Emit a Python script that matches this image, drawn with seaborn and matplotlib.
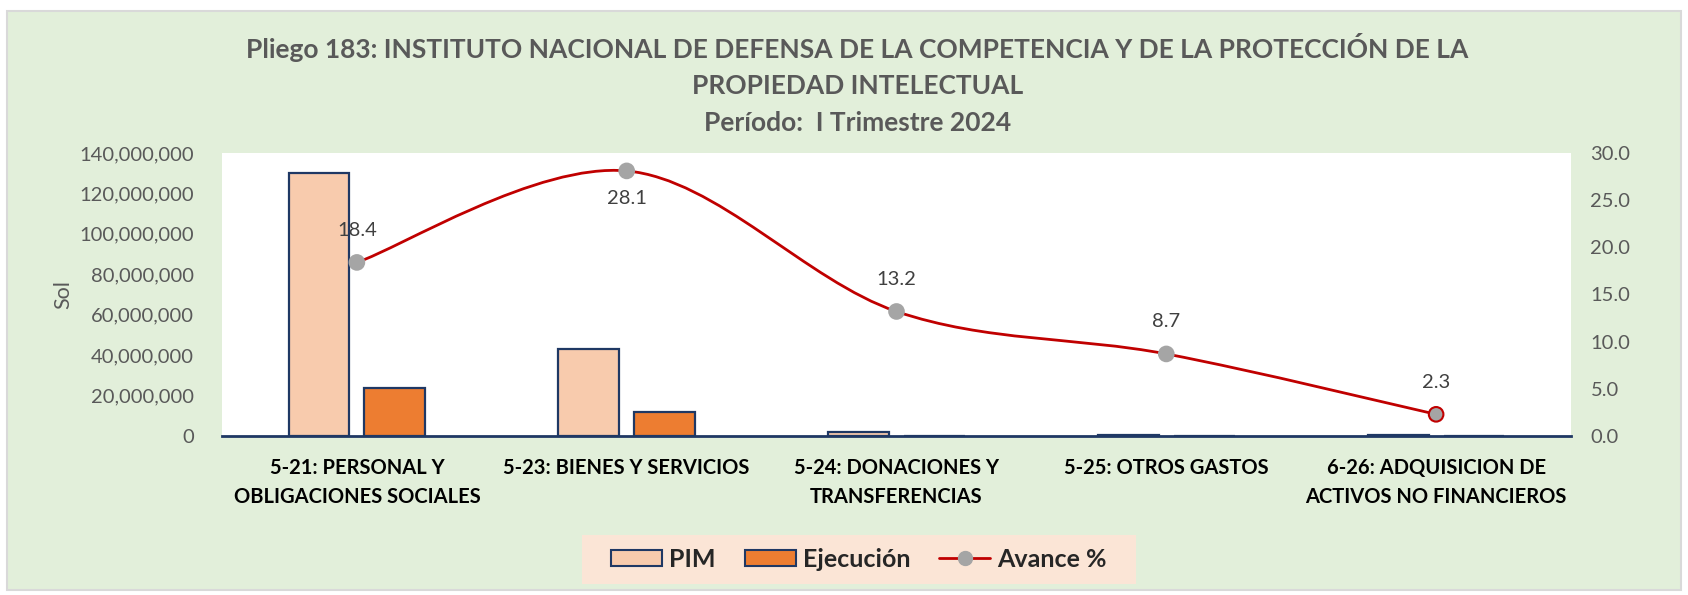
import numpy as np
import pandas as pd
import matplotlib
matplotlib.use('Agg')
import matplotlib.pyplot as plt
import seaborn as sns
from matplotlib.path import Path
from matplotlib.patches import PathPatch, Rectangle, Patch
from matplotlib.lines import Line2D
from matplotlib.ticker import FuncFormatter, MultipleLocator

# Datos del gráfico
categorias = ['5-21: PERSONAL Y\nOBLIGACIONES SOCIALES', '5-23: BIENES Y SERVICIOS',
              '5-24: DONACIONES Y\nTRANSFERENCIAS', '5-25: OTROS GASTOS',
              '6-26: ADQUISICION DE\nACTIVOS NO FINANCIEROS']
pim = [130000000, 43100000, 1800000, 350000, 600000]
ejecucion = [23900000, 12100000, 240000, 30000, 14000]
avance = [18.4, 28.1, 13.2, 8.7, 2.3]

sns.set_style('white')
plt.rcParams['font.family'] = ['Lato', 'DejaVu Sans']

df = pd.DataFrame({
    'Categoria': categorias * 2,
    'Monto': pim + ejecucion,
    'Serie': ['PIM'] * 5 + ['Ejecución'] * 5,
})

navy = '#1F3864'
gris = '#595959'
fig = plt.figure(figsize=(16.88, 5.95), dpi=100, facecolor='white')
fig.patches.append(Rectangle((0.004, 0.008), 0.992, 0.974, transform=fig.transFigure,
                             facecolor='#E2EFDA', edgecolor='#D9D9D9', lw=1.5, zorder=-1))
ax = fig.add_axes([0.1315, 0.2672, 0.7992, 0.4757])
ax.set_facecolor('white')

sns.barplot(data=df, x='Categoria', y='Monto', hue='Serie', ax=ax,
            palette={'PIM': '#F8CBAD', 'Ejecución': '#ED7D31'}, saturation=1,
            width=0.563, gap=0.2, edgecolor=navy, linewidth=1.6, legend=False)

ax.set_ylim(0, 140000000)
ax.yaxis.set_major_locator(MultipleLocator(20000000))
ax.yaxis.set_major_formatter(FuncFormatter(lambda v, p: f'{v:,.0f}'))
ax.tick_params(axis='y', labelsize=14.5, colors=gris, length=0, pad=20)
ax.tick_params(axis='x', length=0, pad=16)
for t in ax.get_xticklabels():
    t.set_fontsize(14.5)
    t.set_fontweight('bold')
    t.set_color('black')
    t.set_linespacing(1.55)
ax.set_xlabel('')
ax.set_ylabel('Sol', fontsize=15.5, color=gris, labelpad=4.5)
for s in ['top', 'right', 'left']:
    ax.spines[s].set_visible(False)
ax.spines['bottom'].set_color(navy)
ax.spines['bottom'].set_linewidth(2)

# Línea suavizada de avance
ax2 = ax.twinx()
ax2.set_ylim(0, 30)
ax2.yaxis.set_major_locator(MultipleLocator(5))
ax2.yaxis.set_major_formatter(FuncFormatter(lambda v, p: f'{v:.1f}'))
ax2.tick_params(axis='y', labelsize=14.5, colors=gris, length=0, pad=14)
for s in ax2.spines.values():
    s.set_visible(False)

x = np.arange(len(avance))
pts = np.column_stack([x, avance])
ext = np.vstack([pts[0], pts, pts[-1]])
verts = [pts[0]]
codes = [Path.MOVETO]
for i in range(len(pts) - 1):
    p0, p1, p2, p3 = ext[i], ext[i + 1], ext[i + 2], ext[i + 3]
    verts += [p1 + (p2 - p0) / 6, p2 - (p3 - p1) / 6, p2]
    codes += [Path.CURVE4] * 3
ax2.add_patch(PathPatch(Path(verts, codes), facecolor='none', edgecolor='#C00000', lw=2, zorder=3))
edges = ['#A5A5A5'] * (len(avance) - 1) + ['#C00000']
ax2.scatter(x, avance, s=110, color='#A5A5A5', edgecolors=edges, linewidths=1.5, zorder=4)
for i, v in enumerate(avance):
    off = -28 if i == 1 else 32
    ax2.annotate(f'{v:.1f}', (x[i], v), textcoords='offset pixels', xytext=(0, off),
                 ha='center', va='center', fontsize=14.5, color='#404040')
ax.set_xlim(-0.5, len(categorias) - 0.5)
ax2.set_ylim(0, 30)

fig.text(0.508, 0.945, 'Pliego 183: INSTITUTO NACIONAL DE DEFENSA DE LA COMPETENCIA Y DE LA PROTECCIÓN DE LA\n'
         'PROPIEDAD INTELECTUAL\nPeríodo:  I Trimestre 2024',
         ha='center', va='top', fontsize=19, fontweight='bold', color=gris, linespacing=1.62)

# Leyenda con fondo propio
fig.patches.append(Rectangle((0.3448, 0.0185), 0.3282, 0.0824, transform=fig.transFigure,
                             facecolor='#FBE5D6', edgecolor='none', zorder=0))
handles = [Patch(facecolor='#F8CBAD', edgecolor=navy, lw=1.5),
           Patch(facecolor='#ED7D31', edgecolor=navy, lw=1.5),
           Line2D([0], [0], color='#C00000', lw=2, marker='o', markersize=10,
                  markerfacecolor='#A5A5A5', markeredgecolor='#A5A5A5')]
fig.legend(handles, ['PIM', 'Ejecución', 'Avance %'], loc='center', bbox_to_anchor=(0.5089, 0.0597),
           ncol=3, frameon=False, prop={'weight': 'bold', 'size': 18},
           handlelength=2.05, handleheight=0.64, columnspacing=1.15,
           borderpad=0, handletextpad=0.28, borderaxespad=0)

fig.savefig('out.png', dpi=100)
